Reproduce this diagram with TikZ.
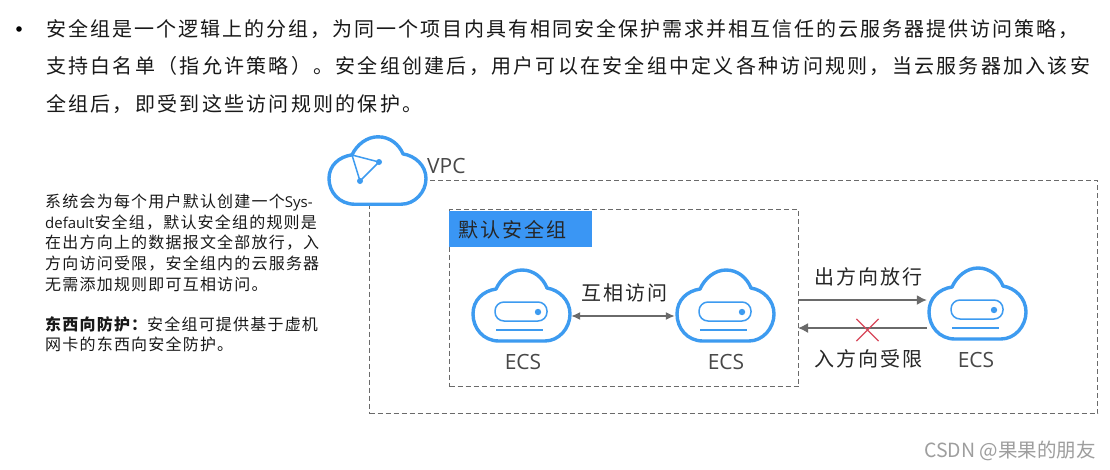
\documentclass[tikz,border=0pt]{standalone}
\usepackage{fontspec}
\setmainfont{Noto Sans CJK SC}
\newfontfamily\bodyfont[LetterSpace=10]{Noto Sans CJK SC}
\newfontfamily\widefont[LetterSpace=11.3]{Noto Sans CJK SC}
\newfontfamily\notefont[LetterSpace=7.5]{Noto Sans CJK SC}
\newfontfamily\iconfont{Open Sans}
\usetikzlibrary{arrows.meta}
\usetikzlibrary{shapes.misc}
\definecolor{cloudblue}{HTML}{3D9BF0}
\definecolor{tagblue}{HTML}{3A96F4}
\definecolor{linegrey}{HTML}{6A6A6A}
\definecolor{labelgrey}{HTML}{484848}
\definecolor{denyred}{HTML}{D8475A}
\newcommand{\notelatin}[1]{{\fontsize{15}{20.6}\iconfont #1}}
\tikzset{
    cloudline/.style={draw=cloudblue, line width=3.4pt, fill=white, line join=round},
    dashbox/.style={draw=linegrey, line width=1.1pt, dash pattern=on 5pt off 3pt},
    flow/.style={draw=linegrey, line width=1.5pt, -{Latex[length=10pt,width=10pt]}},
    both/.style={draw=linegrey, line width=1.5pt, {Latex[length=9pt,width=8pt]}-{Latex[length=9pt,width=8pt]}},
    linetext/.style={anchor=west, inner sep=0pt, font=\fontsize{20}{24}\widefont, text=black!90},
    flowtext/.style={inner sep=0pt, font=\fontsize{20}{24}\bodyfont, text=black!85},
    ecstext/.style={inner sep=0pt, font=\fontsize{21}{24}\iconfont, text=labelgrey},
    ecsnode/.style={minimum width=100pt, minimum height=52pt, inner sep=0pt},
    pics/cloudshape/.style={code={
        \path[cloudline] (-22,35) .. controls (-38,35) and (-48,22) .. (-48,8)
            .. controls (-48,-6) and (-38,-15) .. (-25,-17)
            .. controls (-20,-28) and (-10,-36) .. (1,-36)
            .. controls (13,-36) and (22,-28) .. (26,-18)
            .. controls (38,-16) and (49,-6) .. (49,8)
            .. controls (49,22) and (38,35) .. (24,35) -- cycle;
    }},
    pics/ecsicon/.style={code={
        \pic {cloudshape};
        \draw[cloudblue, line width=1.5pt, rounded corners=9pt] (-26,-4) rectangle (26,15);
        \fill[cloudblue] (17,6) circle (3.2);
        \draw[cloudblue, line width=1.5pt] (-25,24) -- (22,24);
    }}
}
\begin{document}
\begin{tikzpicture}[x=1pt,y=-1pt]
    \useasboundingbox[fill=white] (0,0) rectangle (1110,469);

    \fill (19,29) circle (2.8);
    \node[linetext, font=\fontsize{20}{24}\bodyfont] (lineone) at (46,29) {安全组是一个逻辑上的分组，为同一个项目内具有相同安全保护需求并相互信任的云服务器提供访问策略，};
    \node[linetext] (linetwo) at (46,66) {支持白名单（指允许策略）。安全组创建后，用户可以在安全组中定义各种访问规则，当云服务器加入该安};
    \node[linetext] (linethree) at (46,104) {全组后，即受到这些访问规则的保护。};

    \node[anchor=north west, align=left, inner sep=0pt, font=\fontsize{16}{20.6}\notefont, text=black!90] (note) at (45,194) {%
        系统会为每个用户默认创建一个\notelatin{Sys-}\\
        \notelatin{default}安全组，默认安全组的规则是\\
        在出方向上的数据报文全部放行，入\\
        方向访问受限，安全组内的云服务器\\
        无需添加规则即可互相访问。\\[19.6pt]
        {\bfseries 东西向防护：}安全组可提供基于虚机\\
        网卡的东西向安全防护。};

    \node[dashbox, anchor=north west, minimum width=728pt, minimum height=233pt] (vpcbox) at (369,180) {};
    \node[dashbox, anchor=north west, minimum width=349pt, minimum height=177pt] (sgbox) at (449,209) {};
    \node[anchor=north west, fill=tagblue, minimum width=143pt, minimum height=36pt, inner sep=0pt] (sgtag) at (449,211) {};
    \node[flowtext, anchor=west] (sgtext) at (458,230) {默认安全组};

    \pic[yscale=0.95] at (377,171) {cloudshape};
    \coordinate (vpca) at (352,155);
    \coordinate (vpcb) at (379,162);
    \coordinate (vpcc) at (360,181);
    \draw[cloudblue, line width=1.5pt] (vpca) -- (vpcb) -- (vpcc) -- cycle;
    \foreach \p in {vpcb,vpcc} {
        \fill[cloudblue] (\p) circle (3);
    }
    \node[ecstext, anchor=west] (vpctext) at (427,166) {VPC};

    \foreach \n/\x/\y/\t in {ecsa/521/316/523, ecsb/725/316/726, ecsc/977/314/976} {
        \node[ecsnode] (\n) at (\x,\y) {};
        \pic at (\x,\y-10) {ecsicon};
        \node[ecstext] (\n text) at (\t,\y+46) {ECS};
    }

    \draw[both] (ecsa.east) -- (ecsb.west);
    \node[flowtext] (mutual) at (624,293) {互相访问};

    \coordinate (outstart) at (798,300);
    \coordinate (inend) at (798,328);
    \draw[flow] (outstart) -- (outstart -| ecsc.west);
    \draw[flow] (inend -| ecsc.west) -- (inend);
    \node[flowtext] (outtext) at (868,277) {出方向放行};
    \node[flowtext] (intext) at (868,359) {入方向受限};
    \node[cross out, draw=denyred, line width=1.2pt, minimum size=21pt, inner sep=0pt] (deny) at (867.5,330) {};

    \node[anchor=east, inner sep=0pt, font=\fontsize{19.5}{22}\selectfont, text=black!38] (mark) at (1096,451) {CSDN @果果的朋友};
\end{tikzpicture}
\end{document}
